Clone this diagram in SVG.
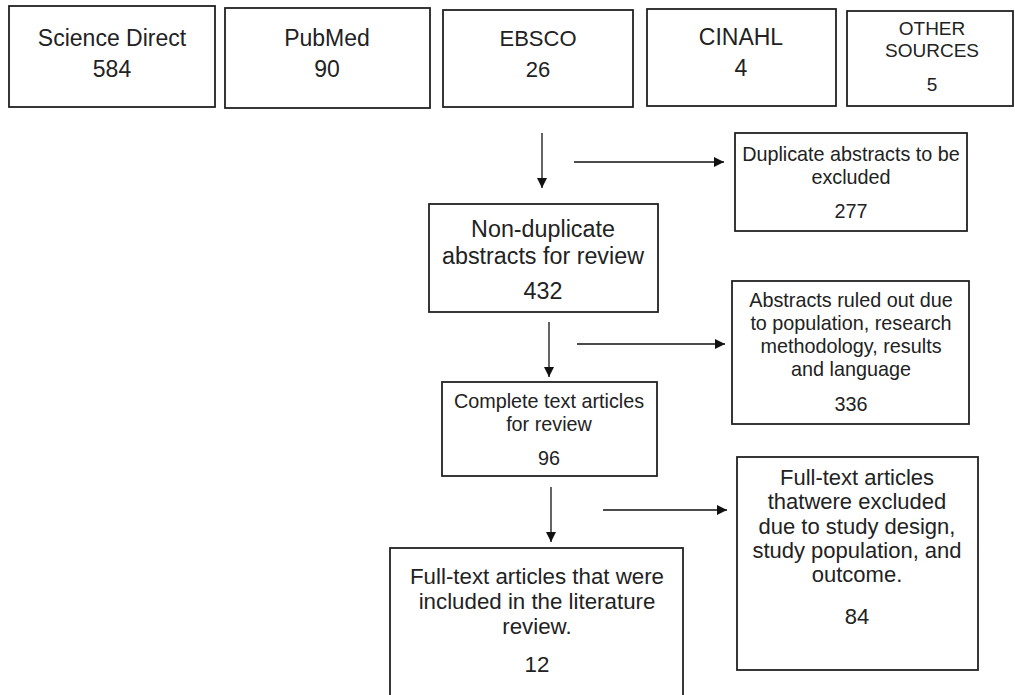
<svg xmlns="http://www.w3.org/2000/svg" width="1015" height="695" viewBox="0 0 1015 695">
<defs>
<marker id="ah" viewBox="0 0 10 10" refX="10" refY="5" markerWidth="10" markerHeight="10" markerUnits="userSpaceOnUse" orient="auto">
<path d="M0,0 L10,5 L0,10 z" fill="#111"/>
</marker>
<style>
.box{fill:#fff;stroke:#222;stroke-width:1.8}
.t{font-family:"Liberation Sans",Arial,sans-serif;fill:#222;text-anchor:middle}
.s{font-family:"Liberation Sans",Arial,sans-serif;fill:#222;text-anchor:middle}
.c{stroke:#111;stroke-width:1.3;fill:none;marker-end:url(#ah)}
</style>
</defs>
<rect width="1015" height="695" fill="#fff"/>
<g id="n-sciencedirect">
<rect class="box" x="9" y="6" width="206" height="101"/>
<text class="t" x="112" y="46" font-size="23">Science Direct</text>
<text class="t" x="112" y="77" font-size="23">584</text>
</g>
<g id="n-pubmed">
<rect class="box" x="225" y="8" width="205" height="100"/>
<text class="t" x="327" y="46" font-size="23">PubMed</text>
<text class="t" x="327" y="77" font-size="23">90</text>
</g>
<g id="n-ebsco">
<rect class="box" x="443" y="10" width="190" height="97"/>
<text class="t" x="538" y="46" font-size="22">EBSCO</text>
<text class="t" x="538" y="77" font-size="22">26</text>
</g>
<g id="n-cinahl">
<rect class="box" x="647" y="9" width="189" height="97"/>
<text class="t" x="741" y="45" font-size="23">CINAHL</text>
<text class="t" x="741" y="76" font-size="23">4</text>
</g>
<g id="n-other">
<rect class="box" x="847" y="11" width="166" height="95"/>
<text class="t" x="932" y="35" font-size="19">OTHER</text>
<text class="t" x="932" y="57" font-size="19">SOURCES</text>
<text class="t" x="932" y="91" font-size="19">5</text>
</g>
<g id="n-duplicate">
<rect class="box" x="735" y="133" width="232" height="98"/>
<text class="s" x="851" y="161" font-size="19.8">Duplicate abstracts to be</text>
<text class="s" x="851" y="184" font-size="19.8">excluded</text>
<text class="s" x="851" y="218" font-size="19.8">277</text>
</g>
<g id="n-nonduplicate">
<rect class="box" x="429" y="204" width="229" height="108"/>
<text class="s" x="543" y="237" font-size="23.3">Non-duplicate</text>
<text class="s" x="543" y="264" font-size="23.3">abstracts for review</text>
<text class="s" x="543" y="299" font-size="23.3">432</text>
</g>
<g id="n-ruledout">
<rect class="box" x="732" y="281" width="237" height="143"/>
<text class="s" x="851" y="307" font-size="19.8">Abstracts ruled out due</text>
<text class="s" x="851" y="330" font-size="19.8">to population, research</text>
<text class="s" x="851" y="353" font-size="19.8">methodology, results</text>
<text class="s" x="851" y="376" font-size="19.8">and language</text>
<text class="s" x="851" y="411" font-size="19.8">336</text>
</g>
<g id="n-complete">
<rect class="box" x="442" y="382" width="215" height="94"/>
<text class="s" x="549" y="408" font-size="19.8">Complete text articles</text>
<text class="s" x="549" y="431" font-size="19.8">for review</text>
<text class="s" x="549" y="465" font-size="19.8">96</text>
</g>
<g id="n-excluded">
<rect class="box" x="737" y="457" width="241" height="213"/>
<text class="t" x="857" y="485" font-size="22">Full-text articles</text>
<text class="t" x="857" y="509" font-size="22">thatwere excluded</text>
<text class="t" x="857" y="534" font-size="22">due to study design,</text>
<text class="t" x="857" y="558" font-size="22">study population, and</text>
<text class="t" x="857" y="582" font-size="22">outcome.</text>
<text class="t" x="857" y="624" font-size="22">84</text>
</g>
<g id="n-included">
<rect class="box" x="390" y="548" width="293" height="160"/>
<text class="t" x="537" y="584" font-size="22.3">Full-text articles that were</text>
<text class="t" x="537" y="609" font-size="22.3">included in the literature</text>
<text class="t" x="537" y="634" font-size="22.3">review.</text>
<text class="t" x="537" y="672" font-size="22.3">12</text>
</g>
<g id="connectors">
<line class="c" x1="542" y1="133" x2="542" y2="188"/>
<line class="c" x1="574" y1="162" x2="724" y2="162"/>
<line class="c" x1="549" y1="322" x2="549" y2="377"/>
<line class="c" x1="577" y1="344" x2="725" y2="344"/>
<line class="c" x1="551" y1="487" x2="551" y2="542"/>
<line class="c" x1="603" y1="510" x2="727" y2="510"/>
</g>
</svg>
